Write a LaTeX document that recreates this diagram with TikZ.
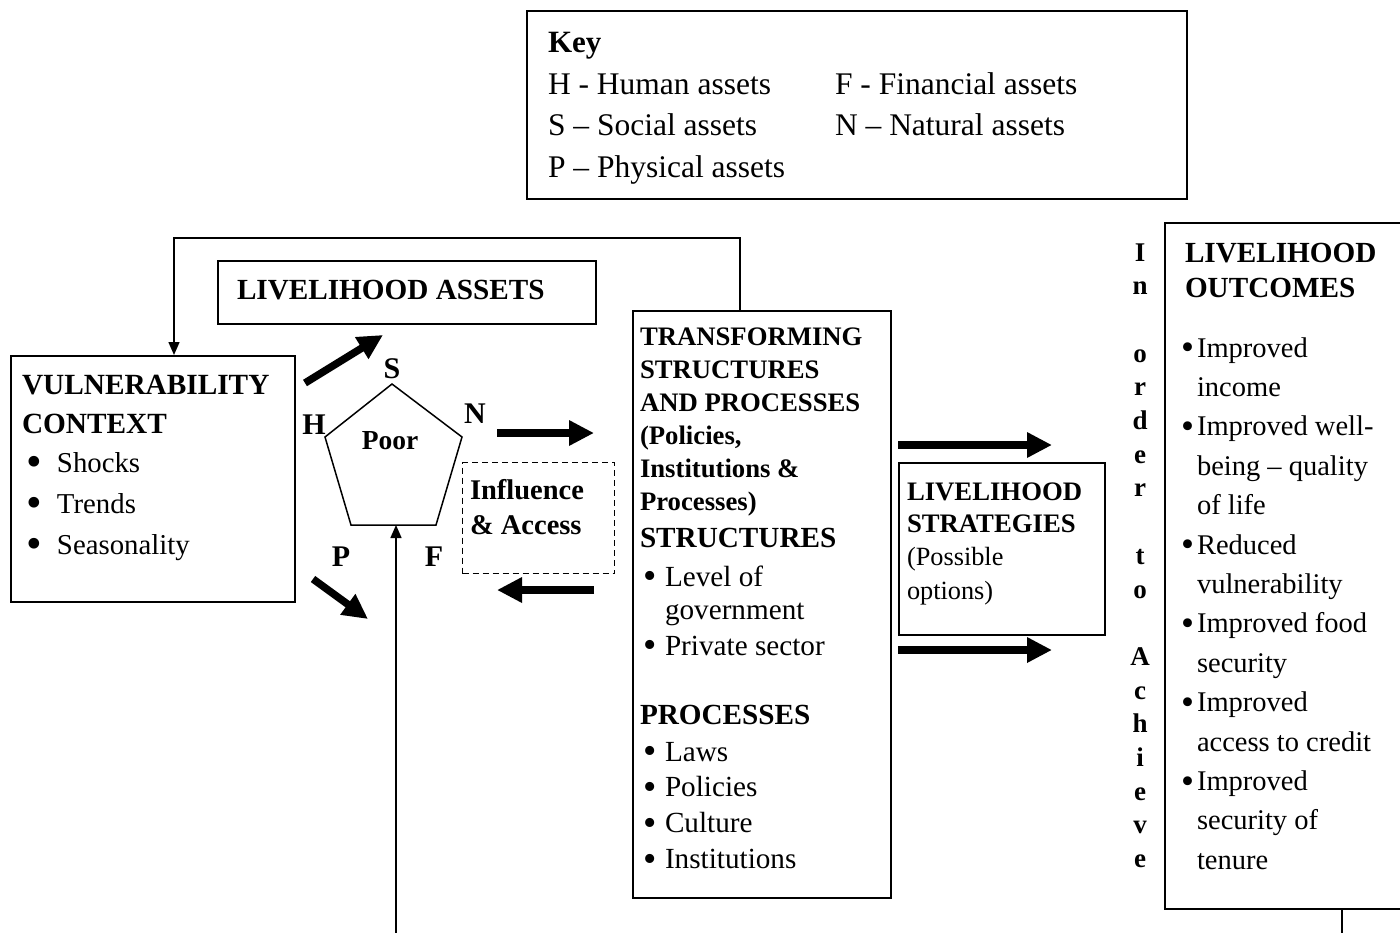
\documentclass[tikz,border=0pt]{standalone}
\usepackage{fontspec}
\setmainfont{Liberation Serif}
\usetikzlibrary{arrows.meta}
\newcommand\fsz[2]{\fontsize{#1}{#2}\selectfont}
\newcommand\bl[1]{\makebox[#1][l]{\smash{\raisebox{-0.1em}{\scalebox{1.3}{\textbullet}}}}}
\newcommand\bigbl[1]{\makebox[#1][l]{\smash{\raisebox{-0.17em}{\scalebox{1.55}{\textbullet}}}}}
\newcommand\ind[1]{\hspace*{#1}}
\begin{document}
\begin{tikzpicture}[x=1pt,y=-1pt,
  box/.style={draw, line width=1.6pt, inner sep=0pt, anchor=north west},
  dbox/.style={draw, line width=1.4pt, dashed, dash pattern=on 6pt off 4pt, inner sep=0pt, anchor=north west},
  txt/.style={anchor=base west, inner sep=0pt, outer sep=0pt},
  lbl/.style={inner sep=0pt, font=\bfseries\fsz{30}{30}},
  fat/.style={line width=7.5pt, -{Triangle[length=25pt,width=24pt]}},
  thinarrow/.style={line width=1.5pt, -{Triangle[length=13pt,width=11pt]}},
  thinline/.style={line width=1.5pt}
]
\useasboundingbox (0,0) rectangle (1400,932);

% Key
\node[box, minimum width=660pt, minimum height=188pt] (key) at (526,10) {};
\node[txt] (keyT) at (548,52) {\fsz{31}{31}\bfseries Key};
\node[txt] (keyA) at (548,94) {\parbox[t]{280pt}{\fsz{31.5}{41.5}H - Human assets\\S – Social assets\\P – Physical assets}};
\node[txt] (keyB) at (835,94) {\parbox[t]{330pt}{\fsz{31.5}{41.5}F - Financial assets\\N – Natural assets}};

% Livelihood assets
\node[box, minimum width=378pt, minimum height=63pt] (la) at (217,260) {};
\node[txt] (laT) at (237,299) {\fsz{29.2}{29}\bfseries LIVELIHOOD ASSETS};

% Vulnerability
\node[box, minimum width=284pt, minimum height=246pt] (vul) at (10,355) {};
\node[txt] (vulT) at (22,394) {\parbox[t]{270pt}{\fsz{29.3}{39}\bfseries VULNERABILITY\\CONTEXT}};
\node[txt] (vulB) at (26,472) {\parbox[t]{260pt}{\fsz{28.8}{41}\bigbl{31pt}Shocks\\\bigbl{31pt}Trends\\\bigbl{31pt}Seasonality}};

% Pentagon
\coordinate (pS) at (392,384);
\coordinate (pN) at (462,437);
\coordinate (pF) at (436,525);
\coordinate (pP) at (351,525);
\coordinate (pH) at (325,437);
\draw[thinline, line join=miter] (pS) -- (pN) -- (pF) -- (pP) -- (pH) -- cycle;
\node[inner sep=0pt, font=\bfseries\fsz{27.5}{27.5}] (poor) at (390,441) {Poor};
\node[lbl] (lS) at (392,369) {S};
\node[lbl] (lH) at (314,425) {H};
\node[lbl] (lN) at (475,414) {N};
\node[lbl] (lP) at (341,557) {P};
\node[lbl] (lF) at (434,557) {F};

% Influence & Access
\node[dbox, minimum width=152pt, minimum height=111pt] (inf) at (462,462) {};
\node[txt] (infT) at (470,499) {\parbox[t]{140pt}{\fsz{28.5}{35}\bfseries Influence\\\& Access}};

% Transforming structures
\node[box, minimum width=258pt, minimum height=587pt] (ts) at (632,310) {};
\node[txt] (tsA) at (640,345) {\parbox[t]{245pt}{\fsz{26.7}{33}\bfseries TRANSFORMING\\STRUCTURES\\AND PROCESSES\\(Policies,\\Institutions \&\\Processes)}};
\node[txt] (tsB) at (640,547) {\fsz{29.2}{29}\bfseries STRUCTURES};
\node[txt] (tsC) at (643,586) {\parbox[t]{240pt}{\fsz{29.2}{33}\bl{22pt}Level of\\\ind{22pt}government}};
\node[txt] (tsD) at (643,655) {\fsz{29.2}{29}\bl{22pt}Private sector};
\node[txt] (tsE) at (640,724) {\fsz{29.2}{29}\bfseries PROCESSES};
\node[txt] (tsF) at (643,761) {\parbox[t]{240pt}{\fsz{29.2}{35.7}\bl{22pt}Laws\\\bl{22pt}Policies\\\bl{22pt}Culture\\\bl{22pt}Institutions}};

% Livelihood strategies
\node[box, minimum width=206pt, minimum height=172pt] (ls) at (898,462) {};
\node[txt] (lsA) at (907,500) {\parbox[t]{195pt}{\fsz{26.7}{32}\bfseries LIVELIHOOD\\STRATEGIES}};
\node[txt] (lsB) at (907,565) {\parbox[t]{195pt}{\fsz{26.3}{34}(Possible\\options)}};

% In order to achieve
\node[txt] (ioa) at (1125,261) {\parbox[t]{30pt}{\centering\fsz{27}{33.7}\bfseries I\\n\\\mbox{}\\o\\r\\d\\e\\r\\\mbox{}\\t\\o\\\mbox{}\\A\\c\\h\\i\\e\\v\\e}};

% Outcomes
\node[box, minimum width=242pt, minimum height=686pt] (lo) at (1164,222) {};
\node[txt] (loA) at (1185,262) {\parbox[t]{215pt}{\fsz{29.2}{35}\bfseries LIVELIHOOD\\OUTCOMES}};
\node[txt] (loB) at (1181,357) {\parbox[t]{215pt}{\fsz{28.5}{39.4}\bl{16pt}Improved\\\ind{16pt}income\\\bl{16pt}Improved well-\\\ind{16pt}being – quality\\\ind{16pt}of life\\\bl{16pt}Reduced\\\ind{16pt}vulnerability\\\bl{16pt}Improved food\\\ind{16pt}security\\\bl{16pt}Improved\\\ind{16pt}access to credit\\\bl{16pt}Improved\\\ind{16pt}security of\\\ind{16pt}tenure}};

% feedback connector
\draw[thinarrow] ([xshift=108pt]ts.north west) -- ++(0,-72) -| ([xshift=164pt]vul.north west);

% thick arrows
\coordinate (a1s) at (305,383); \coordinate (a1e) at (383,335);
\coordinate (a2s) at (497,433); \coordinate (a2e) at (594,433);
\coordinate (a3s) at (594,590); \coordinate (a3e) at (497,590);
\coordinate (a4s) at (313,579); \coordinate (a4e) at (368,619);
\coordinate (a5s) at (898,445); \coordinate (a5e) at (1052,445);
\coordinate (a6s) at (898,650); \coordinate (a6e) at (1052,650);
\draw[fat] (a1s) -- (a1e);
\draw[fat] (a2s) -- (a2e);
\draw[fat] (a3s) -- (a3e);
\draw[fat] (a4s) -- (a4e);
\draw[fat] (a5s) -- (a5e);
\draw[fat] (a6s) -- (a6e);

% bottom arrow into pentagon
\coordinate (bot) at (396,934);
\coordinate (ptop) at (396,525);
\draw[thinarrow] (bot) -- (ptop);

% line below outcomes
\coordinate (lobot) at (1342,934);
\draw[thinline] ([xshift=178pt]lo.south west) -- (lobot);
\end{tikzpicture}
\end{document}
